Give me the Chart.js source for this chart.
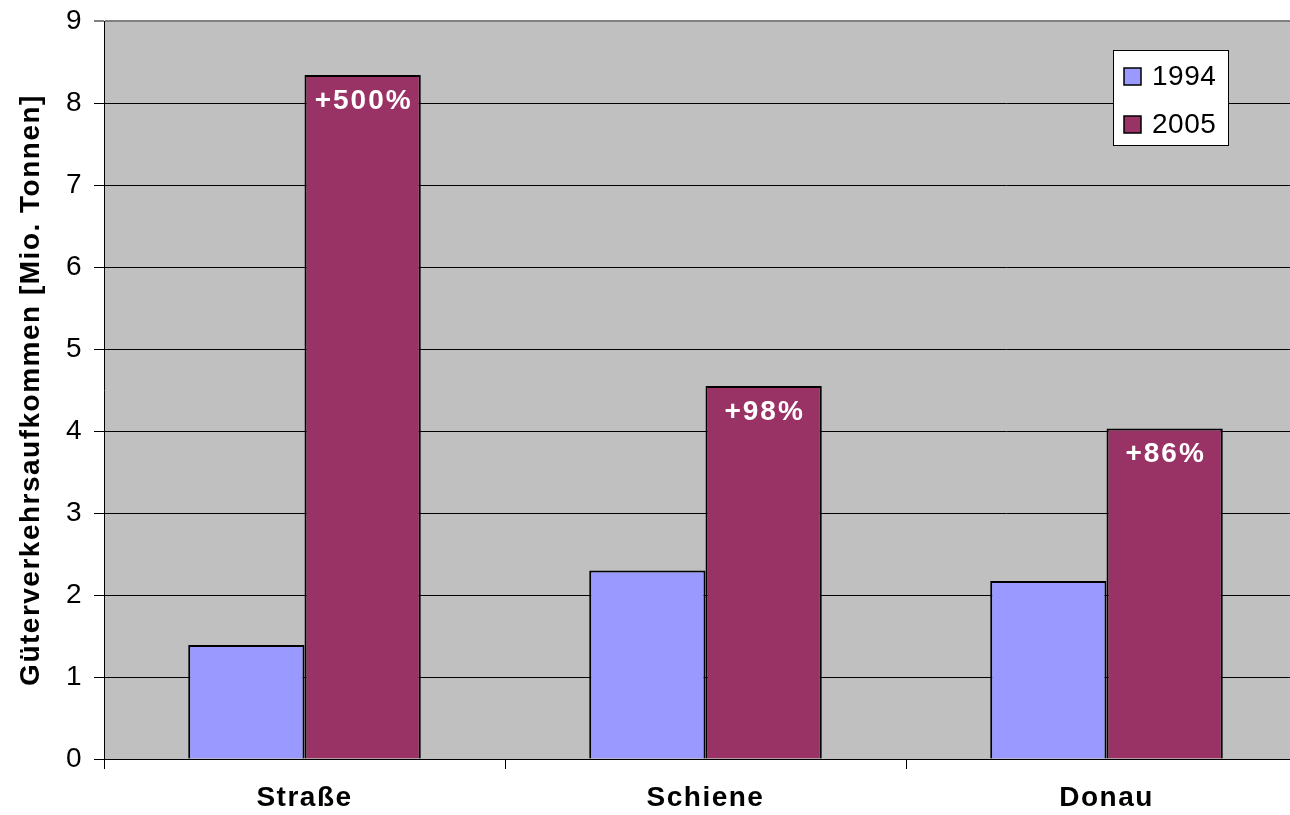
<!DOCTYPE html>
<html>
<head>
<meta charset="utf-8">
<script src="https://cdn.jsdelivr.net/npm/chart.js@4/dist/chart.umd.min.js"></script>
<style>
    html, body { margin: 0; padding: 0; background: #fff; overflow: hidden; }
    #wrap { width: 1310px; height: 815px; }
</style>
</head>
<body>
<div id="wrap"><canvas id="chart" width="1310" height="815"></canvas></div>
<script>
// ================= DATA =================
const categories = ['Straße', 'Schiene', 'Donau'];
const values1994 = [1.39, 2.30, 2.17];
const values2005 = [8.34, 4.55, 4.03];
const growthLabels = ['+500%', '+98%', '+86%'];
const seriesNames = ['1994', '2005'];
const yTicks = [0, 1, 2, 3, 4, 5, 6, 7, 8, 9];

const FONT = "'Liberation Sans', Arial, sans-serif";
const colors = ['#9999FF', '#993366'];

// ================= PLUGINS =================
const plotBackground = {
    id: 'plotBackground',
    beforeDraw(chart) {
        const { ctx, chartArea: a } = chart;
        ctx.save();
        ctx.fillStyle = '#C0C0C0';
        ctx.fillRect(a.left, a.top, a.right - a.left, a.bottom - a.top);
        ctx.restore();
        ctx.letterSpacing = '1.5px';
    }
};

const growthText = {
    id: 'growthText',
    afterDatasetsDraw(chart) {
        const { ctx } = chart;
        const meta = chart.getDatasetMeta(1);
        ctx.save();
        ctx.letterSpacing = '2px';
        ctx.fillStyle = '#fff';
        ctx.font = 'bold 28px ' + FONT;
        ctx.textAlign = 'center';
        ctx.textBaseline = 'middle';
        meta.data.forEach((bar, i) => {
            ctx.fillText(growthLabels[i], bar.x + 1, bar.y + 26);
        });
        ctx.restore();
    }
};

const boxLegend = {
    id: 'boxLegend',
    afterDraw(chart) {
        const { ctx, chartArea: a } = chart;
        const x = a.right - 194, y = a.top + 29;
        ctx.save();
        ctx.fillStyle = '#fff';
        ctx.fillRect(x, y, 115, 95);
        ctx.strokeStyle = '#000';
        ctx.lineWidth = 1;
        ctx.strokeRect(x + 0.5, y + 0.5, 115, 95);
        ctx.font = '28px ' + FONT;
        ctx.letterSpacing = '0.5px';
        ctx.textBaseline = 'middle';
        seriesNames.forEach((name, i) => {
            const cy = y + 26 + i * 48;
            ctx.fillStyle = colors[i];
            ctx.fillRect(x + 11, cy - 8, 17, 17);
            ctx.lineWidth = 1.5;
            ctx.strokeRect(x + 11, cy - 8, 17, 17);
            ctx.fillStyle = '#000';
            ctx.fillText(name, x + 39, cy + 1);
        });
        ctx.restore();
    }
};

// ================= CHART =================
new Chart(document.getElementById('chart'), {
    type: 'bar',
    data: {
        labels: categories,
        datasets: [
            {
                label: seriesNames[0],
                data: values1994,
                backgroundColor: colors[0],
                borderColor: '#000',
                borderWidth: 2,
                categoryPercentage: 0.58,
                barPercentage: 1.0
            },
            {
                label: seriesNames[1],
                data: values2005,
                backgroundColor: colors[1],
                borderColor: '#000',
                borderWidth: 2,
                categoryPercentage: 0.58,
                barPercentage: 1.0
            }
        ]
    },
    options: {
        responsive: false,
        animation: false,
        layout: { padding: { top: 21, right: 3, left: 0, bottom: 0 } },
        plugins: {
            legend: { display: false },
            tooltip: { enabled: false }
        },
        scales: {
            x: {
                offset: true,
                afterFit(scale) {
                    scale.height = 56;
                    scale.paddingLeft = 0;
                    scale.paddingRight = 0;
                },
                grid: {
                    offset: true,
                    drawOnChartArea: false,
                    tickLength: 10,
                    color: '#000'
                },
                border: { color: '#000', width: 1 },
                ticks: {
                    color: '#000',
                    padding: 12,
                    font: { family: FONT, size: 28, weight: 'bold' }
                }
            },
            y: {
                min: 0,
                max: 9,
                afterFit(scale) {
                    scale.width = 104;
                    scale.paddingTop = 0;
                    scale.paddingBottom = 0;
                },
                afterBuildTicks(scale) {
                    scale.ticks = yTicks.map(v => ({ value: v }));
                },
                grid: {
                    tickLength: 10,
                    color: c => (c.tick && c.tick.value === 9) ? '#808080' : '#000',
                    lineWidth: c => (c.tick && c.tick.value === 9) ? 2 : 1
                },
                border: { color: '#000', width: 1 },
                ticks: {
                    color: '#000',
                    padding: 11,
                    font: { family: FONT, size: 28 }
                },
                title: {
                    display: true,
                    text: 'Güterverkehrsaufkommen [Mio. Tonnen]',
                    color: '#000',
                    padding: { top: 14, bottom: 0 },
                    font: { family: FONT, size: 28, weight: 'bold' }
                }
            }
        }
    },
    plugins: [plotBackground, growthText, boxLegend]
});
</script>
</body>
</html>
